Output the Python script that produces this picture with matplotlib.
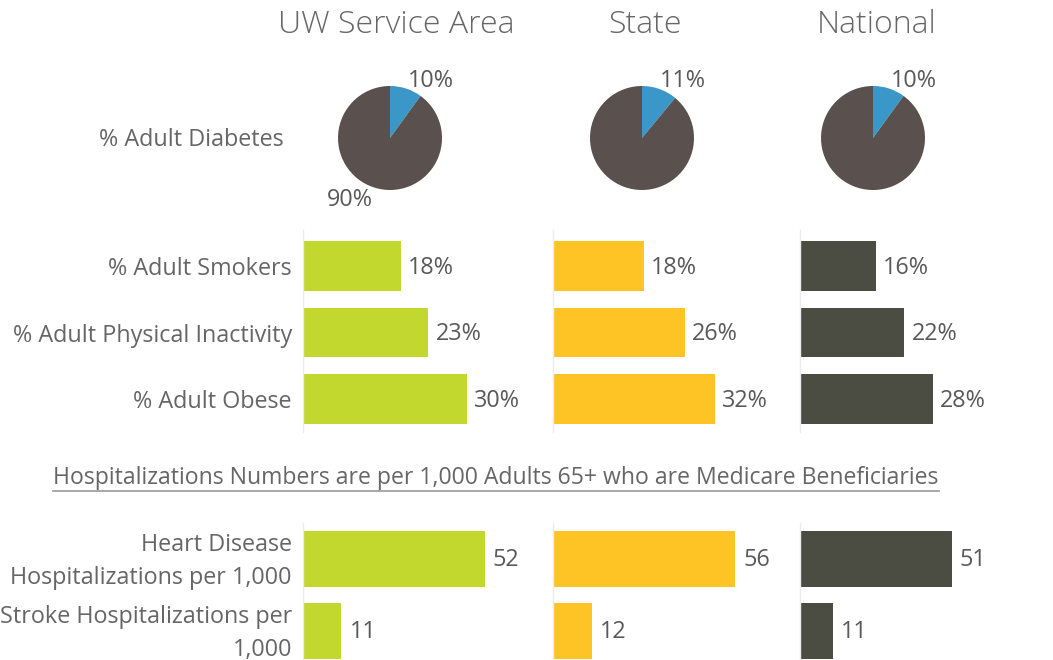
import matplotlib
matplotlib.use("Agg")
import matplotlib.pyplot as plt
from matplotlib.lines import Line2D

plt.rcParams['font.family'] = ['Open Sans', 'DejaVu Sans']

# ---------------- data ----------------
columns = ["UW Service Area", "State", "National"]
diabetes_pct = [10, 11, 10]
pct_categories = ["% Adult Smokers", "% Adult Physical Inactivity", "% Adult Obese"]
uw_pct = [18, 23, 30]
state_pct = [18, 26, 32]
national_pct = [16, 22, 28]
hosp_categories = ["Heart Disease\nHospitalizations per 1,000", "Stroke Hospitalizations per\n1,000"]
uw_hosp = [52, 11]
state_hosp = [56, 12]
national_hosp = [51, 11]
hosp_note = "Hospitalizations Numbers are per 1,000 Adults 65+ who are Medicare Beneficiaries"

bar_colors = ["#c2d82e", "#fec325", "#4b4d43"]
pie_colors = ["#3a97c8", "#5a504d"]
TXT = "#666666"
VAL = "#595959"
FS = 16.8

W, H = 1053, 660
fig = plt.figure(figsize=(W / 100, H / 100), dpi=100)


def ax_px(left, top, width, height):
    return fig.add_axes([left / W, 1 - (top + height) / H, width / W, height / H])


col_x0 = [303, 553, 800]
col_w = [247, 244, 253]
title_cx = [396, 645, 877]
pct_xmax = [45.3, 48.1, 53.3]
hosp_xmax = [70.6, 75.0, 85.0]
pie_cx = [390, 642, 873]
pie_cy = 138
pie_r = 52

pct_vals = [uw_pct, state_pct, national_pct]
hosp_vals = [uw_hosp, state_hosp, national_hosp]

# titles
for t, cx in zip(columns, title_cx):
    fig.text(cx / W, 1 - 25 / H, t, ha='center', va='center', fontsize=23,
             color=TXT, fontweight='light')

# pies
for i, (p, cx) in enumerate(zip(diabetes_pct, pie_cx)):
    s = 2 * pie_r
    ax = ax_px(cx - pie_r, pie_cy - pie_r, s, s)
    ax.pie([p, 100 - p], colors=pie_colors, startangle=90, counterclock=False,
           radius=1.0, wedgeprops=dict(linewidth=0))
    ax.set_xlim(-1, 1)
    ax.set_ylim(-1, 1)
    ax.axis('off')
    ax.text(0.35, 1.10, f"{p}%", ha='left', va='center', fontsize=FS, color=VAL,
            clip_on=False)
    if i == 0:
        ax.text(-0.77, -1.19, f"{100 - p}%", ha='center', va='center', fontsize=FS,
                color=VAL, clip_on=False)

fig.text(284 / W, 1 - 140 / H, "% Adult Diabetes", ha='right', va='center',
         fontsize=FS, color=TXT)


def style_bar_axis(ax):
    for sp in ['top', 'right', 'bottom']:
        ax.spines[sp].set_visible(False)
    ax.spines['left'].set_color('#ececec')
    ax.spines['left'].set_linewidth(1.0)
    ax.set_xticks([])
    ax.tick_params(axis='y', length=0, pad=8, labelsize=FS, labelcolor=TXT)


# percentage bars
for i in range(3):
    ax = ax_px(col_x0[i], 230, col_w[i], 202)
    y = list(range(len(pct_categories)))
    ax.barh(y, pct_vals[i], height=0.75, color=bar_colors[i])
    ax.set_ylim(2 + 33 / 66.5, -36 / 66.5)
    ax.set_xlim(0, pct_xmax[i])
    style_bar_axis(ax)
    if i == 0:
        ax.set_yticks(y, pct_categories)
    else:
        ax.set_yticks([])
    for yy, v in zip(y, pct_vals[i]):
        ax.annotate(f"{v}%", (v, yy), xytext=(7, -2), textcoords='offset pixels',
                    ha='left', va='center', fontsize=FS, color=VAL)

# note
note = fig.text(496 / W, 1 - 478 / H, hosp_note, ha='center', va='center',
                fontsize=16.6, color=TXT)
fig.canvas.draw()
bb = note.get_window_extent()
fig.add_artist(Line2D([bb.x0 / W, bb.x1 / W], [(bb.y0 - 1) / H, (bb.y0 - 1) / H],
                      color='#9a9a9a', linewidth=1.2, transform=fig.transFigure))

# hospitalization bars
for i in range(3):
    ax = ax_px(col_x0[i], 523, col_w[i], 137)
    y = list(range(len(hosp_categories)))
    ax.barh(y, hosp_vals[i], height=0.78, color=bar_colors[i])
    ax.set_ylim(1 + 29 / 72, -36 / 72)
    ax.set_xlim(0, hosp_xmax[i])
    style_bar_axis(ax)
    ax.set_yticks([])
    if i == 0:
        for yy, lab in zip(y, hosp_categories):
            ax.annotate(lab, (0, yy), xytext=(-11, -2.5), textcoords='offset pixels',
                        ha='right', va='center', multialignment='right',
                        linespacing=1.45, fontsize=FS, color=TXT,
                        annotation_clip=False)
    for yy, v in zip(y, hosp_vals[i]):
        ax.annotate(f"{v}", (v, yy), xytext=(8, -1), textcoords='offset pixels',
                    ha='left', va='center', fontsize=FS, color=VAL)

fig.savefig("out.png", dpi=100)
